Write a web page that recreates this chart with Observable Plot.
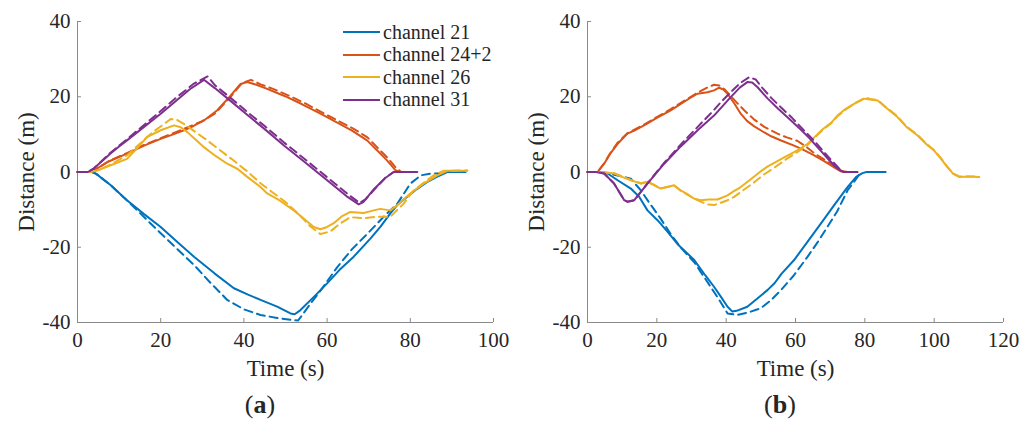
<!DOCTYPE html>
<html>
<head>
<meta charset="utf-8">
<script src="https://cdn.jsdelivr.net/npm/d3@7"></script>
<script src="https://cdn.jsdelivr.net/npm/@observablehq/plot@0.6"></script>
<style>
  html, body { margin: 0; padding: 0; background: #fff; }
  #wrap { position: relative; width: 1033px; height: 421px; overflow: hidden; font-family: "Liberation Serif", "Times New Roman", serif; color: #262626; }
  .panel { position: absolute; top: 0; }
  .panel svg { display: block; }
  g[aria-label="x-axis label"] text, g[aria-label="y-axis label"] text { font-size: 23px; }
  g[aria-label="x-axis tick"], g[aria-label="y-axis tick"] { stroke: #8a8a8a; }
  .caption { position: absolute; top: 391px; font-size: 26px; transform: translateX(-50%); white-space: nowrap; line-height: 28px; }
  .legend { position: absolute; left: 343px; top: 21px; font-size: 20px; }
  .legend .row { height: 22.5px; display: flex; align-items: center; }
  .legend .sw { width: 37px; height: 2px; margin-right: 3px; }
</style>
</head>
<body>
<div id="wrap"></div>
<script>
// ---- data ----
const yTicks = [-40, -20, 0, 20, 40];
const xTicksA = [0, 20, 40, 60, 80, 100];
const xTicksB = [0, 20, 40, 60, 80, 100, 120];
const channels = ["channel 21", "channel 24+2", "channel 26", "channel 31"];
const colors = ["#0072BD", "#D95319", "#EDB120", "#7E2F8E"];

// panel (a): [time s, distance m]
const a21Solid = [[0,0],[3.5,0],[4.5,-0.5],[8,-3.5],[11.9,-7.5],[16,-11.2],[20,-14.6],[24,-18.6],[28,-22.5],[33,-27],[37.6,-30.9],[41,-32.6],[44,-34],[48,-35.8],[51.2,-37.6],[52.2,-37.8],[53.6,-36.7],[57,-33],[60,-29.6],[63,-26],[66.4,-22.5],[70.4,-17.7],[72.8,-14.6],[75.2,-11],[77,-8.6],[79.3,-6.6],[81.5,-4.6],[84,-2.7],[86.5,-1.2],[88.9,0],[93.3,0]];
const a21Dashed = [[0,0],[3.5,0],[4.5,-0.5],[8,-3.5],[12,-7.7],[15.1,-11],[20,-16.3],[24,-20.5],[28,-24.7],[32,-29.5],[36,-34],[40,-36.5],[44,-38],[48,-38.8],[51.2,-39.3],[53,-39.5],[53.7,-38.5],[56,-35],[58.5,-31.4],[62.5,-25.2],[66,-20.5],[69.7,-16.4],[73.6,-11.9],[76.9,-8.4],[80,-3.1],[82.5,-0.9],[84.9,-0.4],[87,-0.4]];
const a24Solid = [[0,0],[3,0],[3.9,0.4],[7.5,2.8],[11.9,4.9],[16,7],[20,8.8],[23,10],[25.6,11.1],[28,12.3],[30.4,13.7],[33.6,16.4],[36.8,20.3],[39.2,23.4],[40.8,23.9],[43,23.2],[45.6,22.1],[48,21],[50.4,19.9],[54,18],[58.4,15.5],[63,12.8],[66,11],[69.6,8.4],[72,5.8],[74.4,3.1],[76.4,0.5],[77.5,0],[81.7,0]];
const a24Dashed = [[0,0],[3,0],[4,0.4],[7.5,2.9],[12,5.1],[16,7.2],[20,9],[25,11.2],[30,13.5],[33,15.5],[36.5,19.6],[39.5,23.6],[41.7,24.5],[44,23.3],[47,22.1],[51,20.2],[55,18.1],[59,15.7],[63,13.4],[66.5,11.4],[69.7,9.2],[72,6.6],[74.5,3.8],[76.5,1.2],[77.8,0],[80.5,0]];
const a26Solid = [[0,0],[3,0],[4.7,0.4],[8,1.8],[11.9,3.5],[14.5,6.5],[16.7,9.3],[20,11.1],[23.2,12.4],[24.8,11.9],[26.4,10.6],[28.5,8.5],[30.4,6.6],[33,4.4],[36,2.2],[38.5,0.8],[40.8,-1.3],[44,-4],[45.6,-5.7],[48.5,-7.5],[52,-10.2],[54.5,-12.5],[56.8,-14.6],[58.4,-15.2],[60,-14.6],[61.6,-13.6],[63.5,-11.8],[65.6,-10.6],[68.8,-10.9],[71.2,-10.2],[72.8,-9.8],[75.2,-10.2],[76.9,-8.8],[80,-5.7],[83.2,-3.1],[86.5,-0.9],[88.9,0.3],[93.7,0.3]];
const a26Dashed = [[0,0],[3,0],[5,0.5],[8,2],[12,4.5],[15,7.5],[18,10.5],[20.5,12.5],[22.4,14.1],[24,13.8],[26,12.5],[28.5,10.5],[31.2,8.4],[34,6],[37,3.5],[41,0],[44,-3],[47,-5.5],[50,-8],[53,-11],[56,-14.5],[58.4,-16.5],[60.8,-15.8],[63,-13.8],[65.6,-12],[68.8,-12.3],[72,-11.9],[75.2,-11.9],[78.4,-8.4],[80.8,-4.9],[84,-2.2],[86,-0.6],[88,0.3],[93.7,0.4]];
const a31Solid = [[0,0],[2.5,0],[3.9,0.9],[6,3],[8,5],[10,6.8],[11.9,8.4],[16,12],[20,15.5],[24,19.2],[27,22],[30.4,24.5],[33,22.3],[37,18.7],[41,15],[45,11.4],[49.7,7],[54,3.2],[58,-0.4],[62,-4],[65,-6.7],[67.6,-8.6],[68.7,-8],[71.3,-4.5],[74,-1.6],[76,0],[81.6,0]];
const a31Dashed = [[0,0],[2.5,0],[4,1],[8,5.2],[12,8.8],[16,12.5],[20,16.2],[24,20],[28,23.5],[31.3,25.4],[33,23.1],[37,19.5],[41,15.8],[45,12.2],[49.7,7.8],[54,4],[58,0.4],[62,-3.2],[65,-5.9],[67.8,-8.2],[69.2,-7.3],[71.5,-4.5],[74,-1.5],[76,0],[80,0]];

// panel (b)
const b21Solid = [[0,0],[3.5,0],[5.8,-0.4],[8.7,-2.2],[12.5,-4.4],[14.9,-6.6],[17.3,-10.2],[20.2,-12.8],[23,-15.8],[26,-19.2],[30.8,-23.4],[34,-27.5],[36.5,-30.5],[38.5,-33.2],[40.4,-35.8],[41.8,-37.1],[43,-36.9],[46.1,-35.8],[49,-33.6],[51.9,-31.4],[54,-29.5],[56,-27],[59.6,-23.4],[63.5,-18.5],[67.3,-13.7],[71,-9],[75,-4],[77.5,-1.3],[79.3,-0.3],[80.5,0],[86,0]];
const b21Dashed = [[0,0],[3.5,0],[5.8,-0.3],[8,-0.8],[10.6,-1.3],[12.5,-1.8],[15.4,-4.9],[18.3,-8.8],[21.1,-12.4],[24,-16.5],[27,-20.2],[30.8,-24],[35,-29.8],[38,-34],[40.4,-37.6],[43.3,-38],[46.5,-37.3],[50,-36.2],[53,-34],[55.8,-31.4],[59.5,-27.5],[63.5,-22.5],[66.5,-18.5],[69.2,-14.6],[72,-10.5],[75,-4.9],[76.9,-2.6],[78.5,-0.5]];
const b24Solid = [[0,0],[2.9,0],[4.8,2.2],[6.5,4.8],[8.7,7.5],[11.5,10.2],[13.5,11],[16.3,12.4],[20,14.4],[24,16.4],[26.9,18.1],[29.5,19.6],[31.7,20.8],[34.6,21.2],[36.5,21.7],[38,22.4],[39.2,21.9],[40.4,20.8],[42.5,18],[44.2,15.5],[46,13.6],[48,12.2],[51,10.5],[53,9.5],[56,8.3],[59.6,7],[62,6],[65,4.6],[69,2.5],[71.5,1],[73.1,0.2],[74,0],[75.5,0]];
const b24Dashed = [[0,0],[2.9,0],[4.8,2.3],[6.5,4.9],[8.7,7.8],[11.5,10.3],[16.3,12.6],[20,14.6],[24,16.7],[28,19],[32,21.2],[34.5,22.4],[36.5,23.2],[38,23],[39.5,22],[41,20.5],[43,18.5],[45.2,16.4],[48,14],[51,12],[54.8,10.2],[57.5,9.2],[60.5,8.3],[63,6.8],[65.4,5],[68,3.5],[71,1.6],[73.5,0.2],[76,0]];
const b26Solid = [[0,0],[3.8,0],[7.7,-0.4],[10,-1.3],[12.5,-2.2],[15.4,-3.1],[17.3,-2.6],[19,-3.4],[21.1,-4.4],[23,-4],[25,-3.5],[26.9,-4.9],[28.8,-5.9],[30.8,-7.1],[32.7,-7.5],[35,-7.3],[37.5,-7.3],[40.4,-6.2],[42,-5.2],[44.2,-4],[47,-2],[50,0.2],[52,1.5],[54.8,2.9],[57,4],[59.6,5.3],[61,6],[63.5,7.5],[65.4,9.2],[68,11.5],[70.2,13],[72.1,15],[74.5,16.8],[76.9,18.1],[79.8,19.5],[81.5,19.3],[83.7,19],[86,17.2],[89.4,14.6],[92,12],[95.2,9.7],[98,7.2],[100,5.7],[102,3.5],[103.8,1.3],[105.5,-0.5],[107.2,-1.3],[110,-1.2],[113,-1.3]];
const b26Dashed = [[0,0],[3.8,0],[7.7,-0.3],[10,-1.2],[12.5,-2.1],[15.4,-3],[17.3,-2.6],[19,-3.3],[21.1,-4.4],[23,-4],[25,-3.6],[26.9,-5],[28.8,-6],[31,-7.2],[33,-8],[34.6,-8.6],[36.5,-8.8],[38.4,-8.2],[40.4,-7.5],[42.3,-6.6],[45,-4.8],[48,-2.8],[51,-0.6],[54,1.2],[57,3.2],[60,5],[63.5,7.2],[65.4,9],[68,11.3],[70.2,12.9],[72.1,14.8],[74.5,16.6],[77,18.2],[80.3,19.8],[81.5,19.4],[83.7,19.1],[86,17.3],[89.4,14.8],[92,12.1],[95.2,9.9],[98,7.3],[100,5.8],[102,3.6],[103.8,1.4],[105.5,-0.4],[107.2,-1.2],[112,-1.2]];
const b31Solid = [[0,0],[2.4,0],[4.8,-0.4],[7.7,-3.1],[10.6,-7.5],[11.5,-7.9],[13.5,-7.5],[17.3,-3.1],[22.1,2.2],[26.9,6.8],[32,11.3],[36.5,15],[41.3,19.9],[44,22.5],[46.1,23.9],[47.5,23.8],[49,22.6],[52,19.5],[55,16.8],[58,14.3],[61.5,11.3],[64,9],[67.3,5.6],[69.5,3.4],[71.5,1.4],[73.1,0.3],[74,0],[77.9,0]];
const b31Dashed = [[0,0],[2.4,0],[4.8,-0.4],[7.7,-3.1],[10.6,-7.5],[11.5,-7.9],[13.5,-7.5],[17.3,-3],[22.1,2.4],[27,7.4],[32,12.2],[36,16],[38.5,18.6],[41.5,21.4],[44,23.6],[46.6,25.2],[48.5,24.6],[50.5,22.3],[53,19.7],[56,17],[59,14.4],[62.5,11],[65.5,8.2],[68,5.5],[70.5,3],[72.5,1],[74,0],[77,0]];

const seriesA = [[a21Solid, a21Dashed], [a24Solid, a24Dashed], [a26Solid, a26Dashed], [a31Solid, a31Dashed]];
const seriesB = [[b21Solid, b21Dashed], [b24Solid, b24Dashed], [b26Solid, b26Dashed], [b31Solid, b31Dashed]];

// ---- drawing ----
const FONT = '"Liberation Serif", "Times New Roman", serif';

function lineMarks(series) {
  const marks = [];
  series.forEach(([solid, dashed], i) => {
    marks.push(Plot.line(solid, {x: d => d[0], y: d => d[1], stroke: colors[i], strokeWidth: 2}));
    marks.push(Plot.line(dashed, {x: d => d[0], y: d => d[1], stroke: colors[i], strokeWidth: 2, strokeDasharray: "8,5"}));
  });
  return marks;
}

function panel({width, marginLeft, marginRight, xmax, xTicks, series}) {
  return Plot.plot({
    width, height: 388,
    marginLeft, marginRight, marginTop: 21, marginBottom: 66,
    style: {fontFamily: FONT, fontSize: "21px", color: "#262626", background: "white", overflow: "visible"},
    x: {domain: [0, xmax]},
    y: {domain: [-40, 40]},
    marks: [
      Plot.ruleX([0], {stroke: "#8a8a8a", strokeWidth: 1}),
      Plot.ruleY([-40], {stroke: "#8a8a8a", strokeWidth: 1}),
      Plot.axisX({ticks: xTicks, tickSize: -4, tickPadding: 14, tickFormat: d => String(d),
                  label: "Time (s)", labelAnchor: "center", labelArrow: "none", labelOffset: 53}),
      Plot.axisY({ticks: yTicks, tickSize: -4, tickPadding: 11, tickFormat: d => String(d),
                  label: "Distance (m)", labelAnchor: "center", labelArrow: "none", labelOffset: 60}),
      ...lineMarks(series)
    ]
  });
}

const wrap = document.getElementById("wrap");

const pa = document.createElement("div");
pa.className = "panel"; pa.style.left = "0px";
pa.appendChild(panel({width: 516, marginLeft: 77, marginRight: 23, xmax: 100, xTicks: xTicksA, series: seriesA}));
const capA = document.createElement("div");
capA.className = "caption"; capA.style.left = "260px";
capA.innerHTML = "(<b>a</b>)";
pa.appendChild(capA);
const leg = document.createElement("div");
leg.className = "legend";
channels.forEach((c, i) => {
  const row = document.createElement("div");
  row.className = "row";
  const sw = document.createElement("span");
  sw.className = "sw"; sw.style.background = colors[i];
  const tx = document.createElement("span");
  tx.textContent = c;
  row.appendChild(sw); row.appendChild(tx);
  leg.appendChild(row);
});
pa.appendChild(leg);
wrap.appendChild(pa);

const pb = document.createElement("div");
pb.className = "panel"; pb.style.left = "516px";
pb.appendChild(panel({width: 517, marginLeft: 71, marginRight: 30, xmax: 120, xTicks: xTicksB, series: seriesB}));
const capB = document.createElement("div");
capB.className = "caption"; capB.style.left = "264px";
capB.innerHTML = "(<b>b</b>)";
pb.appendChild(capB);
wrap.appendChild(pb);
</script>
</body>
</html>
